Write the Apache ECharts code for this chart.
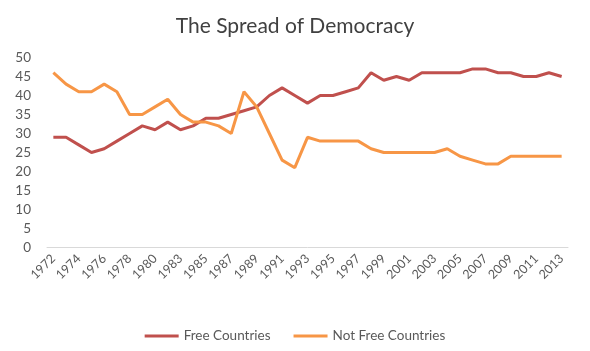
<!DOCTYPE html>
<html>
<head>
<meta charset="utf-8">
<script src="https://cdn.jsdelivr.net/npm/echarts@6/dist/echarts.min.js"></script>
<style>
html,body{margin:0;padding:0;background:#fff;}
#chart{width:590px;height:351px;}
</style>
</head>
<body>
<div id="chart"></div>
<script>
var years = ['1972','1973','1974','1975','1976','1977','1978','1979','1980','1981',
  '1983','1984','1985','1986','1987','1988','1989','1990','1991','1992','1993','1994',
  '1995','1996','1997','1998','1999','2000','2001','2002','2003','2004','2005','2006',
  '2007','2008','2009','2010','2011','2012','2013'];
var freeCountries = [29,29,27,25,26,28,30,32,31,33,
  31,32,34,34,35,36,37,40,42,40,38,40,
  40,41,42,46,44,45,44,46,46,46,46,47,
  47,46,46,45,45,46,45];
var notFreeCountries = [46,43,41,41,43,41,35,35,37,39,
  35,33,33,32,30,41,37,30,23,21,29,28,
  28,28,28,26,25,25,25,25,25,26,24,23,
  22,22,24,24,24,24,24];
var seriesNames = ['Free Countries','Not Free Countries'];
var titleText = 'The Spread of Democracy';

var font = 'Lato, "Open Sans", sans-serif';
var chart = echarts.init(document.getElementById('chart'), null, {renderer:'canvas'});
chart.setOption({
  animation:false,
  backgroundColor:'#ffffff',
  title:{
    text:titleText, left:'center', top:11,
    textStyle:{fontFamily:font, fontSize:21, fontWeight:'normal', color:'#404040'}
  },
  legend:{
    top:324, left:'center', itemWidth:34, itemHeight:3, itemGap:23,
    icon:'rect',
    textStyle:{fontFamily:font, fontSize:13.5, color:'#595959'},
    data:seriesNames
  },
  grid:{left:47, right:22, top:57.5, bottom:103.5},
  xAxis:{
    type:'category', data:years, boundaryGap:true,
    axisLine:{lineStyle:{color:'#d9d9d9', width:1}},
    axisTick:{show:false},
    axisLabel:{interval:1, rotate:45, fontFamily:font, fontSize:12.5, color:'#595959', margin:9}
  },
  yAxis:{
    type:'value', min:0, max:50, interval:5,
    axisLine:{show:false}, axisTick:{show:false},
    splitLine:{show:false},
    axisLabel:{fontFamily:font, fontSize:13.5, color:'#595959', margin:16}
  },
  series:[
    {name:seriesNames[0], type:'line', data:freeCountries, symbol:'none',
     lineStyle:{width:3, color:'#C0504D'}, itemStyle:{color:'#C0504D'}},
    {name:seriesNames[1], type:'line', data:notFreeCountries, symbol:'none',
     lineStyle:{width:3, color:'#F79646'}, itemStyle:{color:'#F79646'}}
  ]
});
</script>
</body>
</html>
